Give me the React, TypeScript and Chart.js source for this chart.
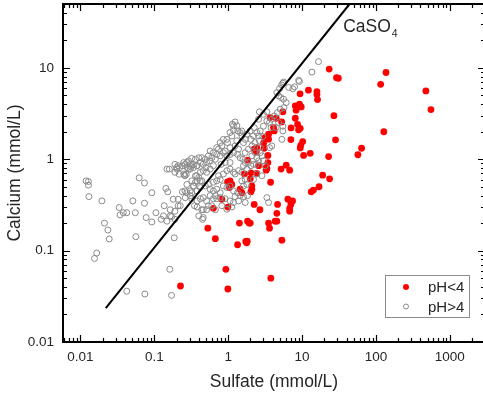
import React, { useEffect, useRef } from 'react';
import { Chart, registerables } from 'chart.js';

Chart.register(...registerables);

// Axis settings
const xTickValues = [0.01, 0.1, 1, 10, 100, 1000];
const yTickValues = [0.01, 0.1, 1, 10];
const xRange = [0.0058, 3000];
const yRange = [0.01, 50];

// CaSO4 saturation line: [sulfate, calcium]
const gypsumLine = [
  [0.022, 0.0235],
  [44, 50],
];
const gypsumLabelAt = [36, 24.5];

// pH < 4 samples: [sulfate, calcium] (mmol/L)
const acidPoints = [
  [23.3, 9.7], [137, 8.9], [29.3, 7.8], [31, 7.7], [116, 6.6], [475, 5.6], [556, 3.5], [128, 2.0],
  [12.2, 5.7], [15.9, 5.5], [15.9, 5.1], [16.2, 4.5], [9.4, 5.2], [27, 3.0], [28.4, 1.63], [12.9, 1.16],
  [22.9, 1.07], [57, 1.12], [64, 1.32], [19, 0.67], [23.6, 0.61], [17, 0.5], [14.3, 0.46], [13.3, 0.44],
  [8.1, 3.84], [9.25, 4.0], [9.75, 3.74], [8.3, 3.44], [8.1, 2.81], [8.7, 2.4], [9.45, 2.18], [8.97, 2.1],
  [7.1, 2.2], [7.06, 1.64], [10.2, 1.56], [9.6, 1.42], [9.45, 1.33], [10.5, 1.1], [6.1, 0.86], [6.8, 0.76],
  [5.2, 0.78], [5.5, 3.3], [5.3, 2.56], [2.03, 0.71], [2.44, 0.7], [3.27, 0.76], [3.75, 0.56], [2.09, 0.51],
  [2.09, 0.47], [2.03, 0.44], [2.25, 0.32], [2.69, 0.28], [4.66, 0.32], [4.56, 0.256], [6.43, 0.365], [7.44, 0.35],
  [7.06, 0.32], [6.8, 0.29], [6.8, 0.27], [3.52, 0.2], [4.33, 0.21], [4.56, 0.21], [3.63, 0.176], [5.33, 0.13],
  [3.78, 0.05], [1.99, 0.2], [0.226, 0.041], [0.99, 0.038], [0.93, 0.0625], [0.53, 0.176], [0.67, 0.135], [1.34, 0.116],
  [1.73, 0.126], [1.81, 0.127], [1.78, 0.122], [1.42, 0.2], [1.83, 0.21], [1.92, 0.2], [0.63, 0.29], [0.99, 0.3],
  [0.82, 0.365], [1.06, 0.58], [1.12, 0.53], [1.04, 0.49], [0.98, 0.565], [1.45, 0.47], [1.53, 0.43], [1.99, 0.61],
  [1.66, 0.69], [3.34, 0.79], [3.45, 0.92], [4.11, 2.22], [4.2, 2.04], [3.52, 1.88], [3.17, 1.73], [3.52, 1.66],
  [3.01, 1.5], [3.07, 1.32], [2.44, 1.34], [2.25, 1.29], [2.4, 1.2], [3.45, 1.1], [3.27, 0.81], [1.83, 0.98],
  [2.58, 0.85], [4.47, 2.81], [3.7, 2.86],
];

// pH > 4 samples: [sulfate, calcium] (mmol/L)
const neutralPoints = [
  [0.0119, 0.58], [0.0128, 0.57], [0.0128, 0.52], [0.013, 0.39], [0.0195, 0.35], [0.0211, 0.2], [0.0235, 0.168],
  [0.0245, 0.134], [0.0166, 0.094], [0.0155, 0.082], [0.0334, 0.296], [0.0344, 0.246], [0.038, 0.26], [0.0424, 0.26],
  [0.0553, 0.26], [0.0512, 0.35], [0.0562, 0.142], [0.0623, 0.625], [0.0736, 0.55], [0.0736, 0.33], [0.0775, 0.23],
  [0.0925, 0.43], [0.0925, 0.206], [0.105, 0.26], [0.124, 0.22], [0.136, 0.31], [0.143, 0.48], [0.152, 0.44],
  [0.148, 0.78], [0.16, 0.78], [0.171, 0.235], [0.186, 0.138], [0.162, 0.0625], [0.171, 0.0324], [0.0745, 0.0335],
  [0.0424, 0.036], [0.164, 0.24], [0.148, 0.21], [0.19, 0.27], [0.19, 0.22], [0.21, 0.31], [0.21, 0.365],
  [0.217, 0.685], [0.256, 0.67], [0.24, 0.44], [0.19, 0.72], [0.18, 0.365], [0.164, 0.28], [0.133, 0.24],
  [0.224, 0.31], [0.26, 0.45], [0.276, 0.53], [0.306, 0.4], [0.35, 0.31], [0.4, 0.24], [0.45, 0.22], [0.46, 0.28],
  [0.54, 0.31], [0.21, 0.85], [0.276, 0.92], [0.306, 0.78], [0.376, 0.85], [0.262, 0.38], [0.275, 0.43],
  [0.306, 0.45], [0.339, 0.51], [0.357, 0.556], [0.322, 0.58], [0.376, 0.66], [0.418, 0.58], [0.29, 0.78],
  [0.262, 0.88], [0.312, 0.83], [0.339, 0.87], [0.27, 0.685], [0.202, 0.78], [0.19, 0.88],
  [16.7, 11.7], [13.6, 9.0], [9.0, 7.3], [9.2, 7.1], [7.5, 5.9], [7.9, 6.2], [6.6, 6.1], [5.5, 6.8], [5.3, 6.5],
  [5.65, 7.0], [4.96, 5.93], [4.56, 5.36], [4.8, 4.94], [5.16, 4.73], [5.62, 4.54], [6.1, 4.17], [5.7, 3.68],
  [5.06, 3.53], [4.65, 3.24], [4.2, 2.98], [3.9, 2.74], [3.63, 2.52], [3.34, 2.63], [4.8, 2.52], [5.5, 2.3],
  [5.5, 2.04], [5.33, 1.65], [4.47, 2.22], [3.8, 2.22], [3.0, 2.3], [2.65, 3.3], [2.58, 2.74], [2.71, 2.04],
  [2.44, 1.96], [2.58, 1.8], [2.2, 1.8], [2.03, 1.65], [2.3, 1.52], [2.1, 1.4], [1.88, 1.29], [1.7, 1.18],
  [2.25, 2.22], [1.98, 2.04], [1.79, 1.88], [1.53, 2.04], [1.45, 1.96], [1.24, 2.56], [1.14, 2.42], [1.18, 2.32],
  [1.31, 2.32], [1.18, 2.09], [1.35, 2.04], [1.06, 1.96], [1.12, 1.8], [1.53, 1.8], [1.7, 1.65], [1.61, 1.52],
  [1.31, 1.59], [1.24, 1.4], [1.38, 1.29], [0.96, 1.65], [0.98, 1.52], [1.06, 1.34], [0.82, 1.4], [0.74, 1.29],
  [0.86, 1.18], [0.78, 1.09], [0.7, 1.13], [0.67, 1.0], [0.6, 1.04], [0.56, 0.96], [0.51, 0.92], [0.46, 0.88],
  [0.44, 1.04], [0.42, 0.92], [0.38, 0.85], [0.34, 0.81], [0.31, 0.88], [0.28, 0.81], [0.25, 0.69], [0.26, 0.66],
  [0.2, 0.81], [0.22, 0.81], [3.34, 3.3], [3.0, 3.1],
  [1.18, 1.18], [1.34, 1.13], [1.45, 1.04], [1.58, 1.0], [1.7, 0.92], [1.88, 0.92], [2.1, 1.09], [2.32, 1.18],
  [2.44, 1.04], [2.71, 1.18], [2.86, 1.09], [3.0, 0.96], [2.2, 0.88], [2.03, 0.85], [1.79, 0.78], [1.61, 0.85],
  [1.53, 0.72], [1.38, 0.75], [1.24, 0.69], [1.18, 0.72], [1.06, 0.78], [0.96, 0.75], [0.86, 0.69], [0.78, 0.6],
  [0.7, 0.58], [0.63, 0.56], [0.74, 0.66], [0.8, 0.88], [0.91, 0.92], [1.06, 0.92], [0.63, 0.85], [0.57, 0.78],
  [0.51, 0.72], [0.46, 0.75], [0.5, 0.81], [0.42, 0.72], [0.4, 0.63], [0.38, 0.58], [0.36, 0.66], [0.44, 0.58],
  [0.49, 0.51], [0.54, 0.53], [0.57, 0.47], [0.63, 0.45], [0.7, 0.47], [0.78, 0.43], [0.86, 0.51], [0.96, 0.49],
  [1.06, 0.51], [1.18, 0.45], [1.34, 0.43], [0.42, 0.49], [0.38, 0.45], [0.32, 0.43], [0.34, 0.51], [0.32, 0.37],
  [0.38, 0.35], [0.42, 0.37], [0.46, 0.38], [0.51, 0.35], [0.57, 0.4], [0.63, 0.37], [0.7, 0.37], [0.38, 0.3],
  [0.44, 0.28], [0.51, 0.28], [0.6, 0.31], [0.67, 0.28], [0.46, 0.23], [0.78, 0.38], [0.82, 0.31], [0.67, 0.4],
  [0.91, 0.37], [1.06, 0.35], [1.18, 0.336], [1.38, 0.35], [1.45, 0.4], [1.24, 0.39], [1.61, 0.51], [1.79, 0.53],
  [1.53, 0.58], [1.7, 0.6], [2.2, 0.6], [2.44, 0.69], [2.86, 0.66], [3.17, 0.85], [2.4, 0.88], [2.58, 0.96],
  [3.63, 1.34], [3.9, 1.4], [2.71, 1.34], [2.65, 1.59], [2.95, 1.77], [3.34, 0.38], [3.52, 0.336], [1.83, 0.4],
  [1.61, 0.39], [1.7, 0.336], [0.96, 0.284], [1.12, 0.3],
  [0.63, 1.18], [0.54, 1.09], [0.49, 1.0], [0.57, 1.23], [0.7, 1.34], [0.78, 1.52], [0.86, 1.65], [0.4, 1.04],
  [0.36, 1.0], [0.32, 1.02], [0.29, 0.96], [0.25, 0.92], [0.24, 0.85], [1.06, 1.13], [0.96, 1.09], [0.91, 1.23],
];

const FONT = "'Liberation Sans', Arial, sans-serif";
const TEXT = '#262626';
const RED = '#ff0000';
const GRAY = '#8a8a8a';

const toXY = (pts: number[][]) => pts.map(([x, y]) => ({ x, y }));

const framePlugin = {
  id: 'frameAndLegend',
  afterDatasetsDraw(chart: any) {
    const { ctx, chartArea: a, scales } = chart;
    const xs = scales.x;
    const ys = scales.y;
    ctx.save();

    // inner ticks
    ctx.strokeStyle = '#000';
    ctx.lineWidth = 1.2;
    const mults = [1, 2, 3, 4, 5, 6, 7, 8, 9];
    const drawTicks = (scale: any, horizontal: boolean) => {
      const lo = Math.floor(Math.log10(scale.min));
      const hi = Math.ceil(Math.log10(scale.max));
      for (let e = lo; e <= hi; e++) {
        for (const m of mults) {
          const v = m * Math.pow(10, e);
          if (v < scale.min * 0.999 || v > scale.max * 1.001) continue;
          const p = Math.round(scale.getPixelForValue(v)) + 0.5;
          const len = m === 1 ? 7 : 4;
          ctx.beginPath();
          if (horizontal) {
            ctx.moveTo(p, a.bottom);
            ctx.lineTo(p, a.bottom - len);
            ctx.moveTo(p, a.top);
            ctx.lineTo(p, a.top + len);
          } else {
            ctx.moveTo(a.left, p);
            ctx.lineTo(a.left + len, p);
            ctx.moveTo(a.right, p);
            ctx.lineTo(a.right - len, p);
          }
          ctx.stroke();
        }
      }
    };
    drawTicks(xs, true);
    drawTicks(ys, false);

    // frame
    ctx.lineWidth = 2;
    ctx.strokeRect(a.left, a.top, a.right - a.left, a.bottom - a.top);

    // CaSO4 label
    const lx = xs.getPixelForValue(gypsumLabelAt[0]);
    const ly = ys.getPixelForValue(gypsumLabelAt[1]);
    ctx.fillStyle = TEXT;
    ctx.textAlign = 'left';
    ctx.textBaseline = 'alphabetic';
    ctx.font = `17.5px ${FONT}`;
    ctx.fillText('CaSO', lx, ly);
    const w = ctx.measureText('CaSO').width;
    ctx.font = `10.5px ${FONT}`;
    ctx.fillText('4', lx + w + 1, ly + 5);

    // legend
    const bx = a.right - 100;
    const by = a.bottom - 67;
    const bw = 84;
    const bh = 42;
    ctx.fillStyle = '#fff';
    ctx.fillRect(bx, by, bw, bh);
    ctx.strokeStyle = '#8c8c8c';
    ctx.lineWidth = 1;
    ctx.strokeRect(bx + 0.5, by + 0.5, bw, bh);
    const items = chart.data.datasets.filter((d: any) => d.legendRow !== undefined)
      .sort((p: any, q: any) => p.legendRow - q.legendRow);
    items.forEach((d: any, i: number) => {
      const cy = by + 12 + i * 19.5;
      ctx.beginPath();
      ctx.arc(bx + 21, cy, d.legendRadius, 0, Math.PI * 2);
      if (d.backgroundColor && d.backgroundColor !== 'rgba(0,0,0,0)') {
        ctx.fillStyle = d.backgroundColor;
        ctx.fill();
      } else {
        ctx.strokeStyle = d.borderColor;
        ctx.lineWidth = 1;
        ctx.stroke();
      }
      ctx.fillStyle = TEXT;
      ctx.font = `15px ${FONT}`;
      ctx.textBaseline = 'alphabetic';
      ctx.fillText(d.label, bx + 43, cy + 5);
    });

    ctx.restore();
  },
};

export default function App() {
  const canvasRef = useRef<HTMLCanvasElement | null>(null);

  useEffect(() => {
    if (!canvasRef.current) return;
    const chart = new Chart(canvasRef.current, {
      type: 'scatter',
      data: {
        datasets: [
          {
            label: 'CaSO4',
            data: toXY(gypsumLine),
            showLine: true,
            borderColor: '#000',
            borderWidth: 2,
            pointRadius: 0,
            order: 0,
          },
          {
            label: 'pH>4',
            data: toXY(neutralPoints),
            pointRadius: 3,
            pointBorderWidth: 1,
            borderColor: GRAY,
            pointBorderColor: GRAY,
            backgroundColor: 'rgba(0,0,0,0)',
            pointBackgroundColor: 'rgba(0,0,0,0)',
            order: 1,
            legendRow: 1,
            legendRadius: 2.5,
          } as any,
          {
            label: 'pH<4',
            data: toXY(acidPoints),
            pointRadius: 3.4,
            pointBorderWidth: 0,
            borderColor: RED,
            backgroundColor: RED,
            pointBackgroundColor: RED,
            order: 2,
            legendRow: 0,
            legendRadius: 3,
          } as any,
        ],
      },
      options: {
        responsive: false,
        animation: false,
        devicePixelRatio: 1,
        layout: { autoPadding: false, padding: { top: 4, right: 1, left: 0, bottom: 0 } },
        plugins: { legend: { display: false }, tooltip: { enabled: false } },
        scales: {
          x: {
            type: 'logarithmic',
            position: 'bottom',
            min: xRange[0],
            max: xRange[1],
            bounds: 'data',
            grid: { display: false, drawTicks: false },
            border: { display: false },
            afterBuildTicks: (s: any) => {
              s.ticks = xTickValues.map((v) => ({ value: v }));
            },
            afterFit: (s: any) => {
              s.height = 52;
              s.paddingLeft = 0;
              s.paddingRight = 0;
              s.paddingTop = 0;
              s.paddingBottom = 0;
            },
            ticks: {
              autoSkip: false,
              maxRotation: 0,
              minRotation: 0,
              padding: 7,
              color: TEXT,
              font: { family: FONT, size: 13.5 },
              callback: (v: any) => String(v),
            },
            title: {
              display: true,
              text: 'Sulfate (mmol/L)',
              color: TEXT,
              font: { family: FONT, size: 17.5 },
              padding: { top: 0, bottom: 1.5 },
            },
          },
          y: {
            type: 'logarithmic',
            position: 'left',
            min: yRange[0],
            max: yRange[1],
            bounds: 'data',
            grid: { display: false, drawTicks: false },
            border: { display: false },
            afterBuildTicks: (s: any) => {
              s.ticks = yTickValues.map((v) => ({ value: v }));
            },
            afterFit: (s: any) => {
              s.width = 63;
              s.paddingLeft = 0;
              s.paddingRight = 0;
              s.paddingTop = 0;
              s.paddingBottom = 0;
            },
            ticks: {
              autoSkip: false,
              padding: 9,
              color: TEXT,
              font: { family: FONT, size: 13.5 },
              callback: (v: any) => String(v),
            },
            title: {
              display: true,
              text: 'Calcium (mmol/L)',
              color: TEXT,
              font: { family: FONT, size: 17.5 },
              padding: { top: 4.5, bottom: 0 },
            },
          },
        },
      } as any,
      plugins: [framePlugin],
    });
    return () => chart.destroy();
  }, []);

  return (
    <div
      style={{
        position: 'absolute',
        left: 0,
        top: 0,
        width: 483,
        height: 394,
        overflow: 'hidden',
        background: '#fff',
      }}
    >
      <canvas ref={canvasRef} width={486} height={394} style={{ display: 'block' }} />
    </div>
  );
}
